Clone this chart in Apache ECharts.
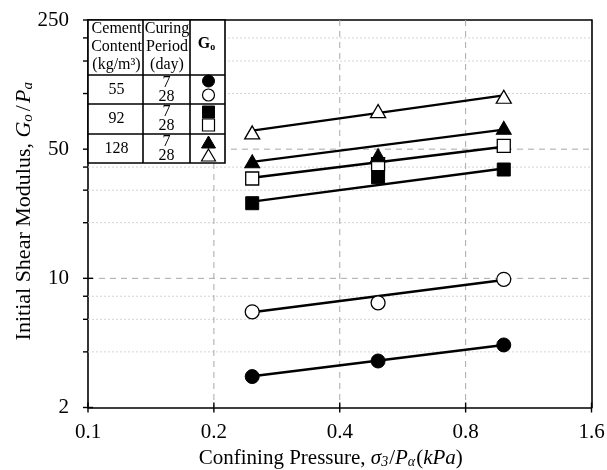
<!DOCTYPE html>
<html>
<head>
<meta charset="utf-8">
<script src="https://cdn.jsdelivr.net/npm/echarts@6/dist/echarts.min.js"></script>
<style>
  html, body { margin: 0; padding: 0; background: #fff; }
  #chart { width: 607px; height: 470px; }
</style>
</head>
<body>
<div id="chart"></div>
<script>
// Axis ticks (log base 2 on x, log base 5 on y)
const xTickValues = [0.1, 0.2, 0.4, 0.8, 1.6];
const xTickLabels = ['0.1', '0.2', '0.4', '0.8', '1.6'];
const yTickValues = [2, 10, 50, 250];
const yTickLabels = ['2', '10', '50', '250'];
const yMinorValues = [4, 6, 8, 20, 30, 40, 100, 150, 200];

// Normalised confining pressure σ3/Pa
const pressure = [0.247, 0.494, 0.987];

// Go/Pa by cement content (kg/m3) and curing period (days)
const c55d7 = [2.94, 3.57, 4.36];
const c55d28 = [6.59, 7.37, 9.88];
const c92d7 = [25.5, 35.2, 38.8];
const c92d28 = [34.7, 41.5, 52.1];
const c128d7 = [43.0, 46.4, 65.3];
const c128d28 = [61.6, 80.4, 96.1];

// Power-law fit lines: Go/Pa at the lowest and highest pressure
const fitPressure = [0.247, 0.987];
const fit55d7 = [2.95, 4.36];
const fit55d28 = [6.55, 9.8];
const fit92d7 = [26.0, 39.3];
const fit92d28 = [35.0, 51.5];
const fit128d7 = [42.7, 63.8];
const fit128d28 = [63.0, 97.8];

// Log scales mapped onto linear value axes
const X0 = 0.1, XB = 2, Y0 = 2, YB = 5;
const lx = v => Math.log(v / X0) / Math.log(XB);
const ly = v => Math.log(v / Y0) / Math.log(YB);
const xSpan = lx(xTickValues[xTickValues.length - 1]);
const ySpan = ly(yTickValues[yTickValues.length - 1]);

const SERIF = '"Liberation Serif", "DejaVu Serif", serif';

function pairs(xs, ys) { return xs.map((x, i) => [lx(x), ly(ys[i])]); }

function guide(name, axis, values, draw) {
  return {
    type: 'custom', name, silent: true, clip: false, z: 1,
    data: values.map(v => axis === 'x' ? [lx(v), 0] : [0, ly(v)]),
    encode: { x: 0, y: 1 },
    renderItem(params, api) {
      const cs = params.coordSys;
      const p = api.coord([api.value(0), api.value(1)]);
      return { type: 'group', children: draw(p, cs, api.value(axis === 'x' ? 0 : 1)) };
    }
  };
}

const majorDash = { stroke: '#a8a8a8', lineWidth: 1, lineDash: [6, 5] };
const minorDot = { stroke: '#d4d4d4', lineWidth: 1, lineDash: [2, 2] };
const tickStyle = { stroke: '#000', lineWidth: 1.4 };

const guides = [
  guide('yMinor', 'y', yMinorValues, (p, cs) => [
    { type: 'line', shape: { x1: cs.x, y1: p[1], x2: cs.x + cs.width, y2: p[1] }, style: minorDot },
    { type: 'line', shape: { x1: cs.x - 5, y1: p[1], x2: cs.x, y2: p[1] }, style: tickStyle }
  ]),
  guide('yMajor', 'y', yTickValues, (p, cs, v) => {
    const out = [{ type: 'line', shape: { x1: cs.x - 5, y1: p[1], x2: cs.x + 5, y2: p[1] }, style: tickStyle }];
    if (v > 0.001 && v < ySpan - 0.001) {
      out.unshift({ type: 'line', shape: { x1: cs.x, y1: p[1], x2: cs.x + cs.width, y2: p[1] }, style: majorDash });
    }
    return out;
  }),
  guide('xMajor', 'x', xTickValues, (p, cs, v) => {
    const yb = cs.y + cs.height;
    const out = [{ type: 'line', shape: { x1: p[0], y1: yb - 5, x2: p[0], y2: yb + 5 }, style: tickStyle }];
    if (v > 0.001 && v < xSpan - 0.001) {
      out.unshift({ type: 'line', shape: { x1: p[0], y1: cs.y, x2: p[0], y2: yb }, style: majorDash });
    }
    return out;
  })
];

function fitLine(name, ys) {
  return {
    type: 'line', name, data: pairs(fitPressure, ys), showSymbol: false, silent: true, z: 3,
    lineStyle: { color: '#000', width: 2.4 }
  };
}

const openStyle = { color: '#fff', borderColor: '#000', borderWidth: 1.3, opacity: 1 };
const fillStyle = { color: '#000', borderColor: '#000', borderWidth: 1, opacity: 1 };

function points(name, ys, symbol, size, filled) {
  return {
    type: 'scatter', name, data: pairs(pressure, ys), symbol, symbolSize: size, z: 4,
    itemStyle: filled ? fillStyle : openStyle
  };
}

const series = [
  ...guides,
  fitLine('55-7 fit', fit55d7),
  fitLine('55-28 fit', fit55d28),
  fitLine('92-7 fit', fit92d7),
  fitLine('92-28 fit', fit92d28),
  fitLine('128-7 fit', fit128d7),
  fitLine('128-28 fit', fit128d28),
  points('55-7', c55d7, 'circle', 14, true),
  points('55-28', c55d28, 'circle', 14, false),
  points('92-7', c92d7, 'rect', 13, true),
  points('92-28', c92d28, 'rect', 13, false),
  points('128-7', c128d7, 'triangle', [15, 13], true),
  points('128-28', c128d28, 'triangle', [15, 13], false)
];

// Key table in the upper-left corner of the plot
const TZ = 100;
const TX = [88, 143, 190, 225];
const TY = [20, 75, 104, 134, 163];
const tbl = [];
tbl.push({ type: 'rect', z: TZ, shape: { x: TX[0], y: TY[0], width: TX[3] - TX[0], height: TY[4] - TY[0] },
  style: { fill: '#fff', stroke: '#000', lineWidth: 1.6 } });
for (let i = 1; i < TY.length - 1; i++) {
  tbl.push({ type: 'line', z: TZ + 1, shape: { x1: TX[0], y1: TY[i], x2: TX[3], y2: TY[i] }, style: { stroke: '#000', lineWidth: 1.6 } });
}
for (let i = 1; i < TX.length - 1; i++) {
  tbl.push({ type: 'line', z: TZ + 1, shape: { x1: TX[i], y1: TY[0], x2: TX[i], y2: TY[4] }, style: { stroke: '#000', lineWidth: 1.6 } });
}
function cellText(text, x, y) {
  tbl.push({ type: 'text', z: TZ + 2, x, y, style: { text, font: '16px ' + SERIF, fill: '#000', align: 'center', verticalAlign: 'middle' } });
}
const headerA = ['Cement', 'Content', '(kg/m³)'];
const headerB = ['Curing', 'Period', '(day)'];
headerA.forEach((t, i) => cellText(t, (TX[0] + TX[1]) / 2 + 1, 29 + i * 18));
headerB.forEach((t, i) => cellText(t, (TX[1] + TX[2]) / 2 + 0.5, 29 + i * 18));
tbl.push({ type: 'text', z: TZ + 2, x: (TX[2] + TX[3]) / 2 - 1, y: 44, style: {
  text: '{g|G}{o|o}', align: 'center', verticalAlign: 'middle',
  rich: { g: { font: 'bold 16px ' + SERIF, fill: '#000' }, o: { font: 'bold 10px ' + SERIF, fill: '#000', padding: [7, 0, 0, 0] } }
} });
const cementContent = ['55', '92', '128'];
const curingDays = ['7', '28'];
cementContent.forEach((c, r) => {
  const top = TY[r + 1], bot = TY[r + 2];
  cellText(c, (TX[0] + TX[1]) / 2 + 1, (top + bot) / 2);
  curingDays.forEach((d, k) => cellText(d, (TX[1] + TX[2]) / 2, top + 8 + k * 14));
});
const kx = (TX[2] + TX[3]) / 2 + 1;
const keyY = [[81, 95], [112, 125], [142, 155]];
const keyFill = { fill: '#000', stroke: '#000', lineWidth: 1 };
const keyOpen = { fill: '#fff', stroke: '#000', lineWidth: 1.2 };
keyY.forEach((pair, r) => {
  pair.forEach((y, k) => {
    const st = k === 0 ? keyFill : keyOpen;
    if (r === 0) tbl.push({ type: 'circle', z: TZ + 2, shape: { cx: kx, cy: y, r: 6 }, style: st });
    if (r === 1) tbl.push({ type: 'rect', z: TZ + 2, shape: { x: kx - 6, y: y - 6, width: 12, height: 12 }, style: st });
    if (r === 2) tbl.push({ type: 'polygon', z: TZ + 2, shape: { points: [[kx, y - 6], [kx + 7, y + 6], [kx - 7, y + 6]] }, style: st });
  });
});

function titleRich(size) {
  return {
    t: { fontFamily: SERIF, fontSize: size, color: '#000' },
    i: { fontFamily: SERIF, fontStyle: 'italic', fontSize: size, color: '#000' },
    sl: { fontFamily: SERIF, fontSize: size, color: '#000', padding: [0, 2, 0, 2] },
    s: { fontFamily: SERIF, fontStyle: 'italic', fontSize: Math.round(size * 0.66), color: '#000', padding: [9, 1, 0, 0] }
  };
}

const chart = echarts.init(document.getElementById('chart'), null, { renderer: 'canvas' });
chart.setOption({
  backgroundColor: '#fff',
  animation: false,
  textStyle: { fontFamily: SERIF },
  grid: { left: 88, right: 15.5, top: 20, bottom: 62.5, show: false, containLabel: false, outerBoundsMode: 'none' },
  xAxis: [{
    type: 'value', min: 0, max: xSpan, interval: 1,
    name: '{t|Confining Pressure, }{i|σ}{s|3}{t|/}{i|P}{s|α}{t|(}{i|kPa}{t|)}',
    nameLocation: 'middle', nameGap: 39, nameMoveOverlap: false,
    nameTextStyle: { rich: titleRich(21), padding: [0, 18, 0, 0] },
    axisLine: { show: true, lineStyle: { color: '#000', width: 1.6 } },
    axisTick: { show: false },
    splitLine: { show: false },
    axisLabel: { margin: 14, fontFamily: SERIF, fontSize: 21, color: '#000',
      formatter: v => xTickLabels[Math.round(v)] }
  }, {
    type: 'value', position: 'top', min: 0, max: xSpan,
    axisLine: { show: true, onZero: false, lineStyle: { color: '#000', width: 1.6 } },
    axisTick: { show: false }, axisLabel: { show: false }, splitLine: { show: false }
  }],
  yAxis: [{
    type: 'value', min: 0, max: ySpan, interval: 1,
    name: '{t|Initial Shear Modulus, }{i|G}{s|o}{sl|/}{i|P}{s|a}',
    nameLocation: 'middle', nameGap: 52, nameRotate: 90, nameMoveOverlap: false,
    nameTextStyle: { rich: titleRich(22), padding: [0, 0, 0, 6] },
    axisLine: { show: true, lineStyle: { color: '#000', width: 1.6 } },
    axisTick: { show: false },
    splitLine: { show: false },
    axisLabel: { margin: 19, fontFamily: SERIF, fontSize: 21, color: '#000',
      formatter: v => yTickLabels[Math.round(v)] }
  }, {
    type: 'value', position: 'right', min: 0, max: ySpan,
    axisLine: { show: true, onZero: false, lineStyle: { color: '#000', width: 1.6 } },
    axisTick: { show: false }, axisLabel: { show: false }, splitLine: { show: false }
  }],
  series,
  graphic: [{ type: 'group', children: tbl }]
});
</script>
</body>
</html>
